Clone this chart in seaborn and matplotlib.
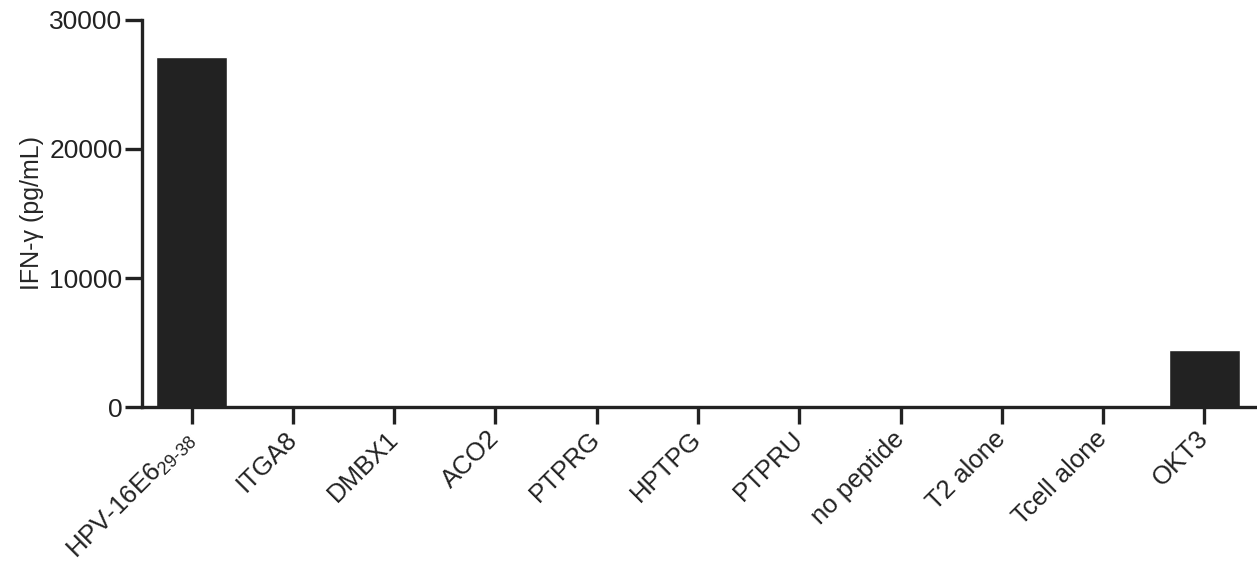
import matplotlib
matplotlib.use("Agg")
import matplotlib.pyplot as plt
import numpy as np
import pandas as pd
import seaborn as sns

categories = [
    "HPV-16E6$_{29\\text{-}38}$", "ITGA8", "DMBX1", "ACO2", "PTPRG", "HPTPG",
    "PTPRU", "no peptide", "T2 alone", "Tcell alone", "OKT3",
]
ifng = [27100, 150, 200, 200, 50, 30, 100, 200, 20, 30, 4450]
yticks = [0, 10000, 20000, 30000]

sns.set_theme(style="ticks")
plt.rcParams["font.family"] = ["Liberation Sans", "DejaVu Sans"]
plt.rcParams["mathtext.fontset"] = "custom"
plt.rcParams["mathtext.rm"] = "Liberation Sans"
plt.rcParams["mathtext.it"] = "Liberation Sans"

df = pd.DataFrame({"cat": range(len(categories)), "val": ifng})

fig = plt.figure(figsize=(12.57, 5.64), dpi=100)
ax = fig.add_axes([0.113, 0.278, 0.887, 0.687])

sns.barplot(data=df, x="cat", y="val", color="#222222", saturation=1,
            width=0.7, ax=ax)

ax.set_xlim(-0.49, 10.52)
ax.set_ylim(0, 30000)
ax.set_yticks(yticks)
ax.set_yticklabels([str(t) for t in yticks], fontsize=19)
ax.set_xticks(range(len(categories)))
ax.set_xticklabels(categories, rotation=45, ha="right", va="center",
                   rotation_mode="anchor", fontsize=18.5)
ax.set_xlabel("")
ax.set_ylabel("IFN-\u03b3 (pg/mL)", fontsize=18, labelpad=4)

for s in ["top", "right"]:
    ax.spines[s].set_visible(False)
for s in ["left", "bottom"]:
    ax.spines[s].set_linewidth(2.4)
    ax.spines[s].set_color("#222222")
ax.tick_params(axis="both", length=12, width=2.4, color="#222222", labelcolor="#222222")
ax.tick_params(axis="x", pad=8)
ax.tick_params(axis="y", pad=2)

fig.savefig("out.png", dpi=100)
